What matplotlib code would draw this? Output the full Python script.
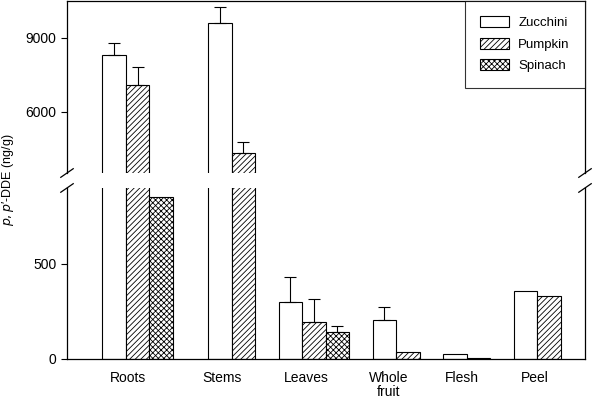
import numpy as np
import matplotlib
matplotlib.use('Agg')
import matplotlib.pyplot as plt

plt.rcParams['font.family'] = ['Liberation Sans', 'DejaVu Sans']
plt.rcParams['hatch.linewidth'] = 0.6

# Data (ng/g)
tissues = ['Roots', 'Stems', 'Leaves', 'Whole\nfruit', 'Flesh', 'Peel']
zucchini = [8300, 9600, 300, 205, 25, 358]
zucchini_err = [500, 650, 130, 70, 0, 0]
pumpkin = [7100, 4300, 195, 37, 5, 332]
pumpkin_err = [700, 480, 120, 0, 0, 0]
spinach = [850, np.nan, 142, np.nan, np.nan, np.nan]
spinach_err = [0, 0, 32, 0, 0, 0]

# layout (bar width = 1 unit)
group_left = np.array([1.5, 6.0, 9.0, 13.0, 16.0, 19.0])
label_pos = [2.6, 6.6, 10.2, 13.7, 16.8, 19.9]
width = 1.0

fig = plt.figure(figsize=(5.95, 3.99), dpi=100)
ax_top = fig.add_axes([0.1126, 0.5664, 0.8706, 0.431])
ax_bot = fig.add_axes([0.1126, 0.1003, 0.8706, 0.4286])

series = [
    ('Zucchini', zucchini, zucchini_err, ''),
    ('Pumpkin', pumpkin, pumpkin_err, '//////'),
    ('Spinach', spinach, spinach_err, 'xxxxxx'),
]

for ax in (ax_top, ax_bot):
    for i, (name, vals, errs, hatch) in enumerate(series):
        x = group_left + i * width + width / 2
        vals = np.array(vals, dtype=float)
        ax.bar(x, vals, width, color='white', edgecolor='black', linewidth=0.8,
               hatch=hatch, label=name)
        errs = np.array(errs, dtype=float)
        mask = errs > 0
        ax.errorbar(x[mask], vals[mask], yerr=[np.zeros(mask.sum()), errs[mask]],
                    fmt='none', ecolor='black', elinewidth=0.8, capsize=4, capthick=0.8)
    ax.set_xlim(0, 22.04)
    ax.tick_params(axis='y', direction='out', length=4, width=0.8, labelsize=10)
    for s in ax.spines.values():
        s.set_linewidth(0.9)

ax_top.set_ylim(3500, 10500)
ax_top.set_yticks([6000, 9000])
ax_top.spines['bottom'].set_visible(False)
ax_top.set_xticks([])

ax_bot.set_ylim(0, 900)
ax_bot.set_yticks([0, 500])
ax_bot.spines['top'].set_visible(False)
ax_bot.set_xticks(label_pos)
ax_bot.set_xticklabels(tissues, fontsize=10, linespacing=1.0)
ax_bot.tick_params(axis='x', length=0, pad=9)

# break marks on both vertical axes
d = 0.025
kw = dict(color='black', clip_on=False, linewidth=0.9)
for xx in (0, 1):
    ax_top.plot([xx - 0.012, xx + 0.012], [-d, d], transform=ax_top.transAxes, **kw)
    ax_bot.plot([xx - 0.012, xx + 0.012], [1 - d, 1 + d], transform=ax_bot.transAxes, **kw)

leg = ax_top.legend(loc='upper right', bbox_to_anchor=(1.0, 1.0), borderaxespad=0,
                    fancybox=False, edgecolor='black', fontsize=9.5,
                    handlelength=2.2, handleheight=0.9, labelspacing=0.65,
                    borderpad=1.15, handletextpad=0.7)
leg.get_frame().set_linewidth(0.8)

fig.text(0.013, 0.55, r'$p,p$' + "\u2032-DDE (ng/g)", rotation=90,
         ha='center', va='center', fontsize=9)

fig.savefig('out.png', dpi=100)
